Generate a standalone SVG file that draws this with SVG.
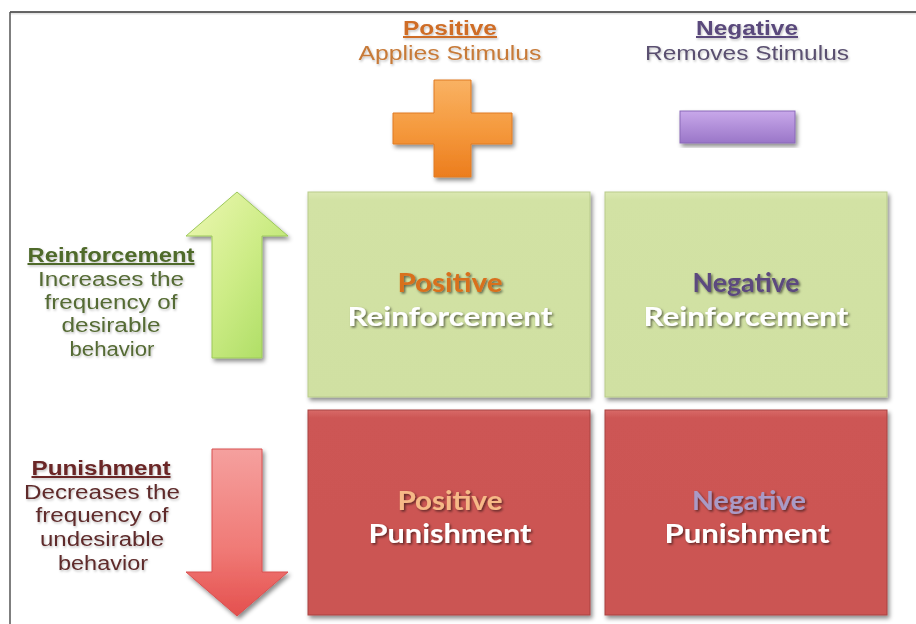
<svg xmlns="http://www.w3.org/2000/svg" width="916" height="624" viewBox="0 0 916 624">
<defs>
  <filter id="sh" x="-10%" y="-10%" width="125%" height="125%">
    <feDropShadow dx="2" dy="3" stdDeviation="2" flood-color="#000" flood-opacity="0.45"/>
  </filter>
  <filter id="tsh" x="-10%" y="-20%" width="120%" height="150%">
    <feDropShadow dx="1.5" dy="1.5" stdDeviation="1" flood-color="#000" flood-opacity="0.55"/>
  </filter>
  <filter id="lsh" x="-5%" y="-20%" width="110%" height="150%">
    <feDropShadow dx="1" dy="1.5" stdDeviation="0.8" flood-color="#000" flood-opacity="0.25"/>
  </filter>
  <linearGradient id="gOrange" x1="0" y1="0" x2="0" y2="1">
    <stop offset="0" stop-color="#f9b263"/>
    <stop offset="0.5" stop-color="#f59a3e"/>
    <stop offset="1" stop-color="#ec7d1e"/>
  </linearGradient>
  <linearGradient id="gPurple" x1="0" y1="0" x2="0" y2="1">
    <stop offset="0" stop-color="#c8a8ea"/>
    <stop offset="1" stop-color="#9a76c8"/>
  </linearGradient>
  <linearGradient id="gGreenArrow" x1="0" y1="0" x2="1" y2="1">
    <stop offset="0" stop-color="#eef8b4"/>
    <stop offset="0.5" stop-color="#cdec86"/>
    <stop offset="1" stop-color="#a6da5c"/>
  </linearGradient>
  <linearGradient id="gRedArrow" x1="0" y1="0" x2="0" y2="1">
    <stop offset="0" stop-color="#f5a09e"/>
    <stop offset="0.6" stop-color="#f07a76"/>
    <stop offset="1" stop-color="#e4504e"/>
  </linearGradient>
  <linearGradient id="gGreenBox" x1="0" y1="0" x2="0" y2="1">
    <stop offset="0" stop-color="#dbe8b2"/>
    <stop offset="0.04" stop-color="#d2e2a4"/>
    <stop offset="1" stop-color="#d0e0a2"/>
  </linearGradient>
  <linearGradient id="gRedBox" x1="0" y1="0" x2="0" y2="1">
    <stop offset="0" stop-color="#d86a68"/>
    <stop offset="0.04" stop-color="#cd5654"/>
    <stop offset="1" stop-color="#cb5452"/>
  </linearGradient>
</defs>
<style>
  .hdr { font-family: "Liberation Sans", Arial, sans-serif; font-size: 20px; text-anchor: middle; }
  .b { font-weight: bold; text-decoration: underline; }
  .side { font-family: "Liberation Sans", Arial, sans-serif; font-size: 20px; text-anchor: middle; }
  .box { font-family: Lato, "Open Sans", sans-serif; font-weight: bold; font-size: 27px; text-anchor: middle; }
  .greenbox { fill: url(#gGreenBox); stroke: #b9cb8c; stroke-width: 1; }
  .redbox { fill: url(#gRedBox); stroke: #a84442; stroke-width: 1; }
</style>
<rect x="0" y="0" width="916" height="624" fill="#ffffff"/>

<g id="frame">
  <line x1="10" y1="13.5" x2="916" y2="13.5" stroke="#e4e4e4" stroke-width="2"/>
  <line x1="10" y1="12" x2="916" y2="12" stroke="#333" stroke-width="1.5"/>
  <line x1="10" y1="12" x2="10" y2="624" stroke="#555" stroke-width="1.5"/>
</g>

<g id="header-positive" filter="url(#lsh)">
  <text class="hdr b" x="450" y="35" fill="#cf6d27" textLength="94" lengthAdjust="spacingAndGlyphs">Positive</text>
  <text class="hdr" x="450" y="60" fill="#c77a38" textLength="183" lengthAdjust="spacingAndGlyphs">Applies Stimulus</text>
</g>
<g id="header-negative" filter="url(#lsh)">
  <text class="hdr b" x="747" y="35" fill="#5a4a7c" textLength="102" lengthAdjust="spacingAndGlyphs">Negative</text>
  <text class="hdr" x="747" y="60" fill="#5a5070" textLength="204" lengthAdjust="spacingAndGlyphs">Removes Stimulus</text>
</g>

<g id="plus" filter="url(#sh)">
  <path d="M434,80 H471 V113 H512 V144 H471 V177 H434 V144 H393 V113 H434 Z" fill="url(#gOrange)" stroke="#e07a24" stroke-width="1"/>
</g>
<g id="minus" filter="url(#sh)">
  <rect x="680" y="111" width="115" height="32" fill="url(#gPurple)" stroke="#8a68b8" stroke-width="1"/>
</g>

<g id="reinforcement-label" filter="url(#lsh)">
  <text class="side b" x="111" y="262" fill="#4f6a2c" textLength="167" lengthAdjust="spacingAndGlyphs">Reinforcement</text>
  <text class="side" x="111" y="286" fill="#556b34" textLength="146" lengthAdjust="spacingAndGlyphs">Increases the</text>
  <text class="side" x="111" y="309" fill="#556b34" textLength="133" lengthAdjust="spacingAndGlyphs">frequency of</text>
  <text class="side" x="111" y="332" fill="#556b34" textLength="99" lengthAdjust="spacingAndGlyphs">desirable</text>
  <text class="side" x="112" y="356" fill="#556b34" textLength="85" lengthAdjust="spacingAndGlyphs">behavior</text>
</g>
<g id="punishment-label" filter="url(#lsh)">
  <text class="side b" x="101" y="475" fill="#6b2626" textLength="139" lengthAdjust="spacingAndGlyphs">Punishment</text>
  <text class="side" x="102" y="499" fill="#5e2b2b" textLength="156" lengthAdjust="spacingAndGlyphs">Decreases the</text>
  <text class="side" x="102" y="522" fill="#5e2b2b" textLength="133" lengthAdjust="spacingAndGlyphs">frequency of</text>
  <text class="side" x="102" y="546" fill="#5e2b2b" textLength="124" lengthAdjust="spacingAndGlyphs">undesirable</text>
  <text class="side" x="103" y="570" fill="#5e2b2b" textLength="90" lengthAdjust="spacingAndGlyphs">behavior</text>
</g>

<g id="up-arrow" filter="url(#sh)">
  <path d="M237,192 L288,236 H262 V358 H212 V236 H186 Z" fill="url(#gGreenArrow)" stroke="#9cc85a" stroke-width="1"/>
</g>
<g id="down-arrow" filter="url(#sh)">
  <path d="M212,449 H262 V572 H288 L237,616 L186,572 H212 Z" fill="url(#gRedArrow)" stroke="#d85050" stroke-width="1"/>
</g>

<g id="positive-reinforcement">
  <rect class="greenbox" x="308" y="192" width="282" height="205" filter="url(#sh)"/>
  <g filter="url(#tsh)">
    <text class="box" x="450" y="292" fill="#d8701f" textLength="105" lengthAdjust="spacingAndGlyphs">Positive</text>
    <text class="box" x="450" y="326" fill="#ffffff" textLength="205" lengthAdjust="spacingAndGlyphs">Reinforcement</text>
  </g>
</g>
<g id="negative-reinforcement">
  <rect class="greenbox" x="605" y="192" width="282" height="205" filter="url(#sh)"/>
  <g filter="url(#tsh)">
    <text class="box" x="746" y="292" fill="#5b4a7e" textLength="107" lengthAdjust="spacingAndGlyphs">Negative</text>
    <text class="box" x="746" y="326" fill="#ffffff" textLength="205" lengthAdjust="spacingAndGlyphs">Reinforcement</text>
  </g>
</g>
<g id="positive-punishment">
  <rect class="redbox" x="308" y="410" width="282" height="205" filter="url(#sh)"/>
  <g filter="url(#tsh)">
    <text class="box" x="450" y="510" fill="#f6b987" textLength="105" lengthAdjust="spacingAndGlyphs">Positive</text>
    <text class="box" x="450" y="543" fill="#ffffff" textLength="163" lengthAdjust="spacingAndGlyphs">Punishment</text>
  </g>
</g>
<g id="negative-punishment">
  <rect class="redbox" x="605" y="410" width="282" height="205" filter="url(#sh)"/>
  <g filter="url(#tsh)">
    <text class="box" x="749" y="510" fill="#a99ac6" textLength="114" lengthAdjust="spacingAndGlyphs">Negative</text>
    <text class="box" x="747" y="543" fill="#ffffff" textLength="165" lengthAdjust="spacingAndGlyphs">Punishment</text>
  </g>
</g>

<g id="connectors"></g>
</svg>
